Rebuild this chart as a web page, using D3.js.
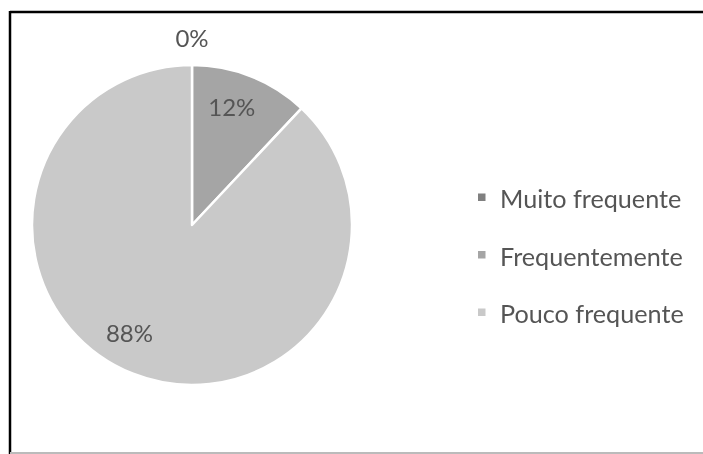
<!DOCTYPE html>
<html>
<head>
<meta charset="utf-8">
<script src="https://cdn.jsdelivr.net/npm/d3@7/dist/d3.min.js"></script>
<style>
  html, body { margin: 0; padding: 0; background: #fff; }
  svg { display: block; }
</style>
</head>
<body>
<div id="chart"></div>
<script>
// Frequency categories and their shares (percent)
const categories = ["Muito frequente", "Frequentemente", "Pouco frequente"];
const values = [0, 12, 88];
const labels = ["0%", "12%", "88%"];
const colors = ["#808080", "#a5a5a5", "#c9c9c9"];
// Small angular nudges (degrees) for the percentage labels
const labelNudge = [0, -3, 8.5];

const W = 703, H = 454;
const cx = 192, cy = 225, R = 160;

const svg = d3.select("#chart").append("svg")
  .attr("width", W).attr("height", H);

const defs = svg.append("defs");
defs.append("filter").attr("id", "soft")
  .attr("x", "-5%").attr("y", "-5%").attr("width", "110%").attr("height", "110%")
  .append("feGaussianBlur").attr("stdDeviation", 0.6);

svg.append("rect").attr("width", W).attr("height", H).attr("fill", "#fff");

const g = svg.append("g").attr("filter", "url(#soft)");

// Frame lines
g.append("line").attr("x1", 10).attr("x2", W).attr("y1", 12).attr("y2", 12)
  .attr("stroke", "#000").attr("stroke-width", 2.5);
g.append("line").attr("x1", 10).attr("x2", 10).attr("y1", 11).attr("y2", H)
  .attr("stroke", "#000").attr("stroke-width", 2.5);
g.append("line").attr("x1", 10).attr("x2", W).attr("y1", 453).attr("y2", 453)
  .attr("stroke", "#bbbbbb").attr("stroke-width", 2);

const color = d3.scaleOrdinal().domain(categories).range(colors);

const pie = d3.pie().sort(null).value(d => d.value);
const data = categories.map((c, i) => ({ name: c, value: values[i], label: labels[i], nudge: labelNudge[i] }));
const arcs = pie(data);

const arc = d3.arc().innerRadius(0).outerRadius(R);

const pieG = g.append("g").attr("transform", `translate(${cx},${cy})`);

pieG.selectAll("path")
  .data(arcs)
  .join("path")
  .attr("d", arc)
  .attr("fill", d => color(d.data.name))
  .attr("stroke", "#fff")
  .attr("stroke-width", 2.5)
  .attr("stroke-linejoin", "round");

// Percentage labels
const fontFam = "Lato, 'Open Sans', sans-serif";
const labelR = R * 0.78;

pieG.selectAll("text.pct")
  .data(arcs)
  .join("text")
  .attr("class", "pct")
  .attr("font-family", fontFam)
  .attr("font-size", 24)
  .attr("fill", "#555555")
  .attr("text-anchor", "middle")
  .attr("dominant-baseline", "central")
  .attr("transform", d => {
    if (d.data.value === 0) return `translate(0,${-R - 28})`;
    const a = (d.startAngle + d.endAngle) / 2 + d.data.nudge * Math.PI / 180;
    return `translate(${labelR * Math.sin(a)},${-labelR * Math.cos(a)})`;
  })
  .text(d => d.data.label);

// Legend
const legend = g.append("g");
const legendY = d3.scalePoint().domain(categories).range([197, 312]);

const items = legend.selectAll("g")
  .data(categories)
  .join("g")
  .attr("transform", d => `translate(478,${legendY(d)})`);

items.append("rect")
  .attr("x", 0).attr("y", -3.5)
  .attr("width", 7.5).attr("height", 7.5)
  .attr("fill", d => color(d));

items.append("text")
  .attr("x", 22).attr("y", 1)
  .attr("dominant-baseline", "central")
  .attr("font-family", fontFam)
  .attr("font-size", 25.2)
  .attr("fill", "#555555")
  .text(d => d);
</script>
</body>
</html>
